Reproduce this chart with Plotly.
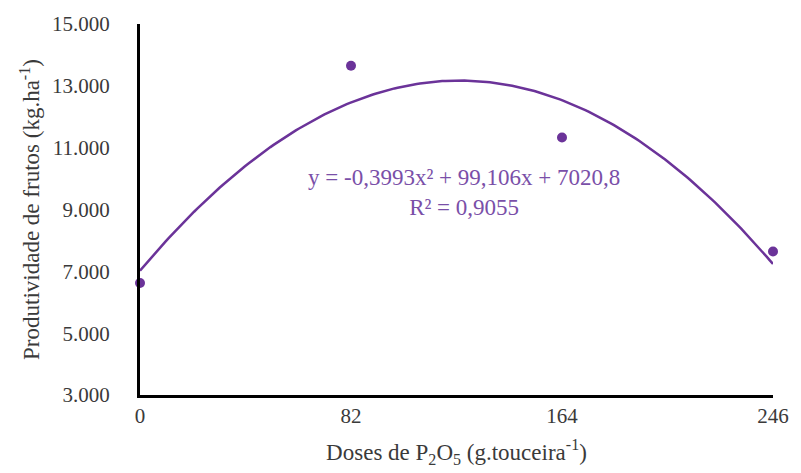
import numpy as np
import plotly.graph_objects as go

# Data
doses = [0, 82, 164, 246]
produtividade = [6620, 13650, 11330, 7640]
x_ticks = [0, 82, 164, 246]
y_ticks = [3000, 5000, 7000, 9000, 11000, 13000, 15000]
y_ticktext = ["3.000", "5.000", "7.000", "9.000", "11.000", "13.000", "15.000"]
# Displayed polynomial trendline coefficients (a*x^2 + b*x + c)
trend_coef = [-0.3993, 99.106, 7020.8]
equation_text = "y = -0,3993x² + 99,106x + 7020,8<br>R² = 0,9055"

purple = "#6b3399"
text_color = "#3a3a3a"
font_family = "Liberation Serif, Times New Roman, serif"

xs = np.linspace(min(doses), max(doses), 200)
ys = np.polyval(trend_coef, xs)

fig = go.Figure()
fig.add_trace(go.Scatter(x=xs, y=ys, mode="lines",
                         line=dict(color=purple, width=2.5),
                         hoverinfo="skip", cliponaxis=False))
fig.add_trace(go.Scatter(x=doses, y=produtividade, mode="markers",
                         marker=dict(color=purple, size=10),
                         cliponaxis=False))

fig.add_annotation(x=126, y=9560, xref="x", yref="y", text=equation_text,
                   showarrow=False, align="center",
                   font=dict(family=font_family, size=23, color="#7a4fa8"))

fig.update_layout(
    width=801, height=473,
    margin=dict(l=140, r=22, t=20, b=78),
    paper_bgcolor="white", plot_bgcolor="white",
    showlegend=False,
    font=dict(family=font_family, color=text_color),
)
fig.update_xaxes(range=[0, 246], tickvals=x_ticks, ticktext=[str(v) for v in x_ticks],
                 showgrid=False, zeroline=False, showline=True,
                 linecolor="black", linewidth=3, ticks="",
                 ticklabelstandoff=0,
                 tickfont=dict(family=font_family, size=21, color=text_color),
                 title=dict(text="Doses de P<sub>2</sub>O<sub>5</sub> (g.touceira<sup>-1</sup>)",
                            font=dict(family=font_family, size=23, color=text_color),
                            standoff=17))
fig.update_yaxes(range=[3000, 15000], tickvals=y_ticks, ticktext=y_ticktext,
                 showgrid=False, zeroline=False, showline=True,
                 linecolor="black", linewidth=3, ticks="",
                 ticklabelstandoff=23,
                 tickfont=dict(family=font_family, size=21, color=text_color),
                 title=dict(text="Produtividade de frutos (kg.ha<sup>-1</sup>)",
                            font=dict(family=font_family, size=23, color=text_color),
                            standoff=6))

fig.write_html("out.html", config={"displayModeBar": False},
               post_script="document.body.style.margin='0';")
